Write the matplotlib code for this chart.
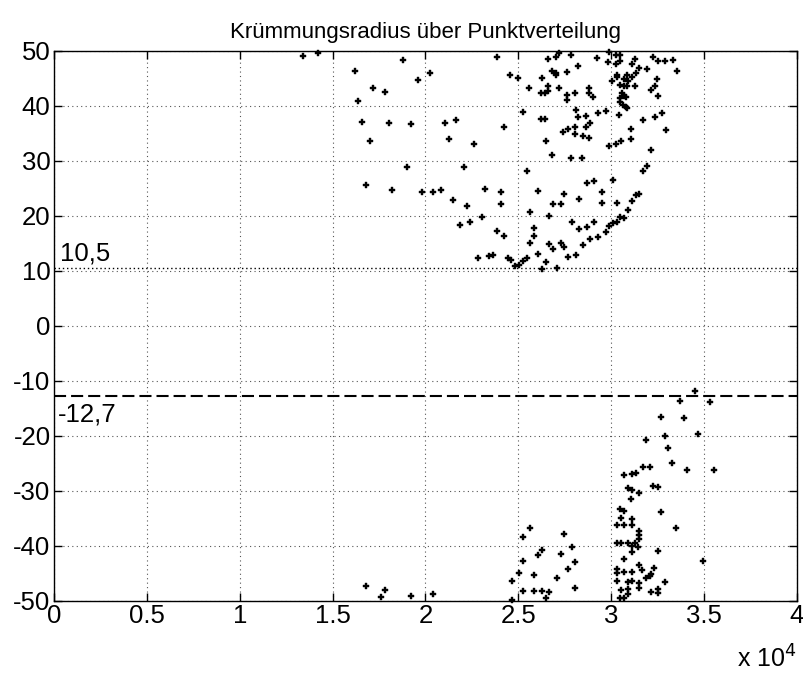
import matplotlib
matplotlib.use("Agg")
import matplotlib.pyplot as plt
from matplotlib.ticker import FuncFormatter

plt.rcParams['font.family'] = ['Liberation Sans', 'DejaVu Sans']

# Curvature radius samples, upper branch (x = point index, y = radius)
x_upper = [13410, 14210, 16190, 18810, 19620, 17200, 17810, 16390, 16590, 18010,
           19210, 17000, 19010, 16800, 18220, 20230, 23830, 24550, 21040, 21630,
           24220, 21260, 22600, 22070, 19820, 20430, 20850, 23220, 24040, 21460,
           24040, 22210, 23040, 21850, 22410, 23830, 24220, 22820, 23410, 23630,
           24440, 24620, 24820, 25030, 25250, 25450, 25620, 25620, 25450, 25250,
           25000, 25570, 26610, 27050, 27210, 27820, 28210, 26810, 27010, 27050,
           27620, 26250, 26590, 26200, 26420, 26590, 27210, 27620, 27620, 28030,
           28800, 28800, 26200, 26420, 27400, 27670, 28030, 28030, 28230, 28090,
           28630, 28630, 28480, 28800, 28840, 26470, 26830, 27820, 28410, 28680,
           26050, 27480, 28260, 26880, 27280, 26650, 27870, 25860, 28260, 28680,
           25860, 28860, 26650, 27280, 27480, 28480, 26880, 26050, 27650, 28090,
           26470, 26250, 27060, 29250, 29880, 30240, 30480, 29850, 30240, 30480,
           31270, 31110, 31520, 31930, 32270, 32520, 32880, 33330, 33550, 30300,
           30300, 30660, 30850, 31110, 31320, 30050, 30480, 30660, 30850, 30910,
           31270, 32450, 32330, 32150, 29020, 32520, 30600, 30660, 30480, 30770,
           30480, 30640, 30800, 30850, 30440, 29290, 29700, 31730, 32330, 32740,
           32940, 31050, 31050, 29880, 30240, 30510, 32130, 31930, 31720, 30100,
           29090, 29510, 29510, 30300, 31520, 31320, 31110, 30910, 30490, 30690,
           30100, 30300, 29880, 29090, 29700, 29290]
y_upper = [49.0, 49.5, 46.3, 48.4, 44.7, 43.3, 42.5, 40.9, 37.0, 36.9,
           36.7, 33.6, 28.9, 25.6, 24.7, 46.0, 48.9, 45.5, 36.9, 37.4,
           36.1, 33.9, 33.1, 28.8, 24.3, 24.3, 24.7, 24.8, 24.3, 22.9,
           22.1, 21.7, 19.7, 18.3, 18.8, 17.3, 16.3, 12.4, 12.6, 12.9,
           12.4, 11.9, 10.9, 11.0, 11.8, 12.4, 20.6, 15.0, 28.1, 38.9,
           45.1, 43.3, 48.5, 48.9, 49.6, 49.3, 47.3, 46.4, 45.9, 45.5,
           46.2, 45.1, 43.5, 42.4, 42.4, 42.7, 43.3, 42.0, 41.0, 42.4,
           43.2, 42.4, 37.6, 37.6, 35.3, 35.7, 36.2, 34.9, 38.0, 39.2,
           38.2, 36.1, 34.5, 34.1, 36.9, 33.5, 31.0, 30.5, 30.5, 25.9,
           24.5, 23.9, 23.0, 22.1, 22.1, 19.9, 18.9, 17.8, 17.6, 17.9,
           16.4, 15.7, 14.8, 15.0, 14.3, 14.7, 13.9, 13.0, 12.5, 12.9,
           11.5, 10.4, 10.5, 48.7, 49.8, 49.3, 49.3, 47.9, 47.5, 48.1,
           48.5, 47.5, 46.9, 46.7, 48.8, 48.1, 48.1, 48.4, 46.4, 45.5,
           45.2, 44.9, 45.6, 45.3, 45.9, 44.5, 43.8, 43.5, 43.5, 44.5,
           43.5, 44.9, 43.6, 42.9, 41.5, 41.8, 42.3, 41.7, 41.4, 41.5,
           40.7, 40.1, 39.8, 39.5, 38.3, 38.7, 39.1, 37.4, 38.0, 38.7,
           35.6, 35.8, 33.9, 32.7, 33.1, 33.5, 31.9, 29.0, 28.1, 26.5,
           26.4, 24.3, 22.4, 22.3, 23.9, 23.7, 22.6, 21.0, 19.8, 19.5,
           18.7, 18.9, 18.1, 18.8, 17.0, 16.1]

# Lower branch
x_lower = [16800, 17820, 17600, 19210, 20390,
           25640, 25270, 27460, 26270, 26050, 27280, 27870, 25270, 28070, 25030,
           25840, 27650, 24640, 27060, 25250, 25840, 26270, 26650, 26470, 24640,
           28030,
           34500, 33690, 35310, 32690, 33890, 34680, 32880, 31880, 33080, 33280,
           31720, 32080, 34090, 35510, 30710, 31100, 31320, 30910, 31100, 32270,
           32490, 31520, 31070, 30490, 30710, 32690, 30510, 31100, 30310, 30710,
           31100, 33490, 31520, 31520, 31520, 30310, 30510, 30910, 31280, 31100,
           31460, 31100, 32540, 34920, 30710, 31520, 31670, 30310, 30310, 30710,
           31100, 32310, 32150, 32060, 31880, 30310, 30910, 31100, 31520, 31520,
           32880, 30510, 30910, 30910, 32130, 32540, 32540, 30490, 30710]
y_lower = [-47.4, -48.1, -49.3, -49.1, -48.7,
           -36.7, -38.5, -37.8, -40.8, -41.6, -41.5, -40.2, -42.7, -42.9, -44.9,
           -45.3, -44.2, -46.5, -45.9, -48.2, -48.2, -48.2, -48.5, -49.5, -49.8,
           -47.7,
           -11.9, -13.7, -13.9, -16.6, -16.8, -19.7, -20.1, -20.8, -22.3, -25.0,
           -25.7, -25.6, -26.3, -26.3, -27.1, -27.0, -26.7, -29.5, -29.9, -29.2,
           -29.4, -30.5, -31.5, -33.4, -33.7, -33.8, -34.9, -35.1, -36.2, -36.2,
           -36.2, -36.8, -37.3, -38.0, -38.7, -39.5, -39.5, -39.5, -39.5, -40.0,
           -40.2, -41.2, -40.9, -42.8, -42.5, -43.5, -44.4, -44.2, -45.0, -44.8,
           -44.8, -44.0, -45.1, -45.5, -45.9, -46.4, -46.6, -46.4, -46.8, -47.7,
           -46.6, -48.1, -47.9, -48.8, -48.4, -47.9, -48.6, -49.5, -49.5]

# Reference radii and their annotations
upper_limit = 10.5
lower_limit = -12.7
upper_text = "10,5"
lower_text = "-12,7"

x_ticks = [0, 5000, 10000, 15000, 20000, 25000, 30000, 35000, 40000]
y_ticks = [-50, -40, -30, -20, -10, 0, 10, 20, 30, 40, 50]

fig = plt.figure(figsize=(8.04, 6.77), dpi=100)
ax = fig.add_axes([54 / 804, 1 - 600.7 / 677, (797 - 54) / 804, (600.7 - 50.7) / 677])

ax.set_xlim(0, 40000)
ax.set_ylim(-50, 50)
ax.set_xticks(x_ticks)
ax.set_yticks(y_ticks)
ax.xaxis.set_major_formatter(FuncFormatter(lambda v, p: f"{v / 1e4:g}"))
ax.yaxis.set_major_formatter(FuncFormatter(lambda v, p: f"{v:g}"))

ax.grid(True, color="#555555", linestyle=(0, (1, 3)), linewidth=0.8)
ax.set_axisbelow(True)

ax.tick_params(direction="in", length=6, width=1, top=True, right=True,
               labelsize=18.5, pad=2.5, colors="black")
for s in ax.spines.values():
    s.set_linewidth(1.0)
    s.set_color("black")

for xs, ys in ((x_upper, y_upper), (x_lower, y_lower)):
    ax.plot(xs, ys, linestyle="none", marker="P", markersize=4.0,
            color="black", markeredgewidth=0.3, clip_on=False, zorder=3)

ax.axhline(upper_limit, color="black", linestyle=(0, (1, 2)), linewidth=1.0, zorder=2)
ax.axhline(lower_limit, color="black", linestyle=(0, (5.8, 2.4)), linewidth=1.5, zorder=2)

ax.annotate(upper_text, xy=(0, upper_limit), xytext=(4, 2), textcoords="offset points",
            fontsize=18.5, ha="left", va="bottom")
ax.annotate(lower_text, xy=(0, lower_limit), xytext=(3, -5), textcoords="offset points",
            fontsize=18.5, ha="left", va="top")

ax.set_title("Krümmungsradius über Punktverteilung", fontsize=16, pad=9)

fig.text(797 / 804, 1 - 668 / 677, r"x 10$^4$", fontsize=18, ha="right", va="baseline")

fig.savefig("out.png", dpi=100)
